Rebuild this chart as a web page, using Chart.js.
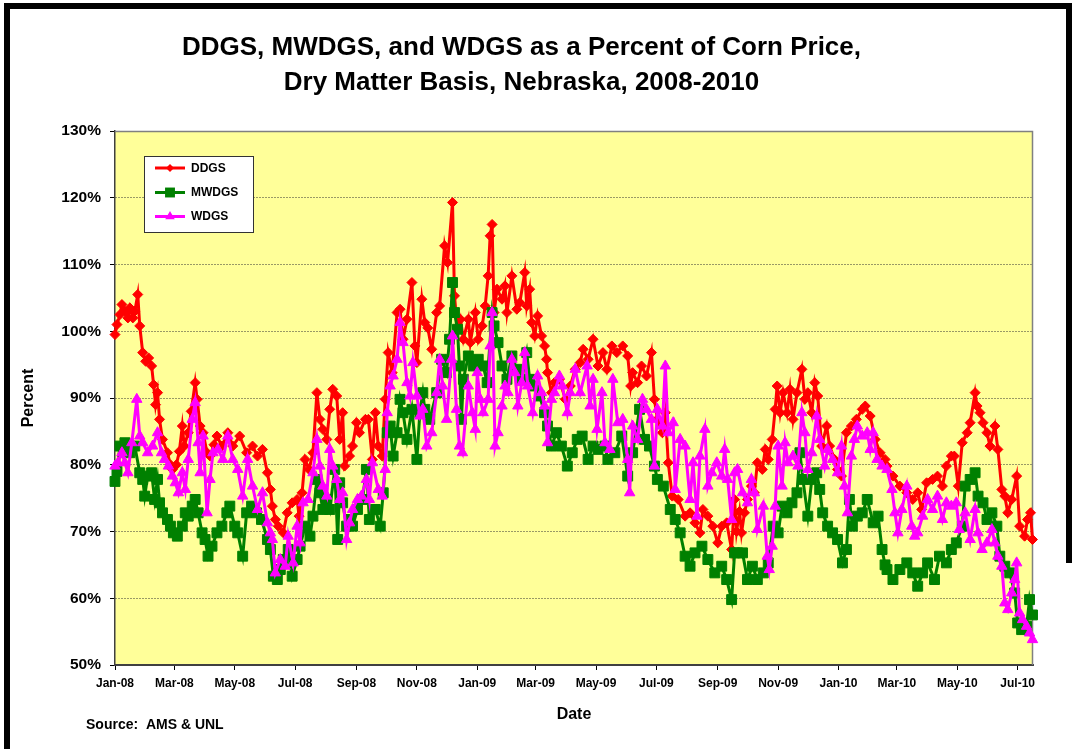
<!DOCTYPE html>
<html>
<head>
<meta charset="utf-8">
<title>DDGS, MWDGS and WDGS as a Percent of Corn Price</title>
<script src="https://cdn.jsdelivr.net/npm/chart.js@4.4.1/dist/chart.umd.min.js"></script>
<style>
  html, body { margin: 0; padding: 0; background: #fff; }
  #chart { display: block; }
</style>
</head>
<body>
<canvas id="chart" width="1075" height="749"></canvas>
<script>
const FONT = "'Liberation Sans', Arial, Helvetica, sans-serif";

// x values are days since 1 Jan 2008
const monthDays = [0, 60, 121, 182, 244, 305, 366, 425, 486, 547, 609, 670, 731, 790, 851, 912];
const monthLabels = ['Jan-08', 'Mar-08', 'May-08', 'Jul-08', 'Sep-08', 'Nov-08', 'Jan-09', 'Mar-09',
                     'May-09', 'Jul-09', 'Sep-09', 'Nov-09', 'Jan-10', 'Mar-10', 'May-10', 'Jul-10'];
const yTicks = [50, 60, 70, 80, 90, 100, 110, 120, 130];

const ddgsDay = [0,2,5,7,10,13,15,18,20,23,25,28,31,34,37,39,41,43,45,48,53,56,58,62,65,68,70,74,77,81,
  83,86,89,93,96,100,103,108,114,119,126,133,139,144,149,154,157,159,162,165,170,174,179,184,186,189,192,196,200,204,
  207,210,214,217,220,224,227,230,232,237,240,244,247,253,256,260,263,266,270,273,276,280,285,288,291,295,300,303,305,310,
  313,316,320,325,328,333,336,341,343,346,349,352,357,359,364,367,371,374,377,379,381,383,386,391,394,396,401,406,409,414,
  416,419,421,424,427,431,434,436,437,441,444,449,455,460,465,470,473,478,483,488,493,497,502,507,513,518,521,523,528,532,
  537,542,545,548,553,556,559,563,569,576,581,586,591,594,599,604,609,613,618,623,626,628,631,633,636,639,643,646,649,654,
  657,660,664,667,669,672,675,679,682,685,689,694,697,700,704,707,710,714,719,722,727,730,734,739,744,749,755,758,763,768,
  773,778,780,786,793,800,806,811,815,820,826,831,836,840,845,848,852,856,861,864,869,871,874,877,881,884,889,892,896,899,
  902,906,911,914,919,922,925,927];
const ddgsPct = [99.5,101,102.5,104,103,102,103.5,102,103,105.5,100.8,96.8,95.5,96,94.8,92,89,90.8,86.8,83.8,
  81.8,80,79.3,80,82,85.8,82.8,84.8,88,92.3,89.8,85.8,84.8,81.8,81.3,83,84.3,82.8,84.8,82.8,
  84.3,81.8,82.8,81.3,82.3,78.8,76.3,73.8,71.8,70.8,69.8,72.8,74.3,74.8,72.3,75.8,80.8,79.3,81.8,90.8,
  86.8,85.3,83.8,88.3,91.3,90.3,83.8,87.8,79.8,81.3,82.8,86.3,84.8,86.8,86.8,80.8,87.8,82.8,81.3,89.8,
  96.8,93.8,102.8,103.3,98.8,101.8,107.3,97.8,95.3,104.8,101.3,100.5,97.3,102.8,103.8,112.8,110.3,119.3,105.3,100.3,
  101.8,98.8,101.8,98.3,102.8,98.8,100.8,103.8,108.3,114.3,116,102.8,106.3,104.8,106.8,102.8,108.3,103.3,104.3,108.8,
  103.8,106.3,101.3,99.3,102.3,99.3,97.8,95.8,93.8,90.8,92.3,92.8,89.8,91.8,94.3,95.3,97.3,95.8,98.8,94.8,
  96.8,94.3,97.8,96.8,97.8,96.3,91.8,93.8,92.3,94.8,93.3,96.8,89.8,86.8,84.8,87.8,80.3,75.3,74.8,72.3,
  72.8,71.3,69.8,73.3,72.3,70.8,68.3,70.8,71.3,67.3,74.8,70,73,69.8,72.8,74.8,76.8,75.8,80.3,79.3,
  82.3,80.8,83.8,88.3,91.8,87.8,90.8,87.8,91.3,86.8,90.8,94.3,89.8,90.8,87.8,92.3,90.3,82.8,85.8,82.8,
  80.8,79.3,78.3,84.8,85.8,86.8,88.3,88.8,87.3,83.8,81.8,80.8,79.8,78.3,76.8,75.8,74.8,75.8,73.3,77.3,
  77.8,78.3,76.8,79.8,81.3,81.3,76.8,83.3,84.8,86.3,90.8,88.8,87.8,86.3,84.8,82.8,85.8,82.3,76.3,75.3,
  72.8,74.8,78.3,70.8,69.3,71.8,72.8,68.8];

const mwdgsDay = [0,2,5,10,15,20,25,28,30,33,37,40,43,45,48,53,56,59,63,68,71,74,78,81,84,88,91,94,98,103,
  108,113,116,121,124,129,133,138,143,148,154,157,160,164,167,170,175,179,184,187,192,197,200,204,207,210,214,217,222,225,
  227,230,234,237,240,245,250,254,257,263,268,271,275,278,281,285,288,291,295,300,305,308,311,313,318,325,330,335,338,341,
  343,346,348,350,352,357,362,367,372,376,381,383,387,391,396,401,406,411,416,419,424,429,434,437,441,446,451,457,462,467,
  472,478,483,488,495,498,505,512,518,523,530,535,540,545,548,554,561,566,571,576,581,586,593,599,606,613,618,623,626,629,
  634,639,644,649,655,660,665,670,674,679,684,689,692,695,700,704,709,712,715,720,725,730,735,739,742,745,750,755,760,766,
  771,775,778,780,786,793,800,806,811,816,821,828,833,840,845,850,856,859,864,869,872,877,881,886,891,894,899,904,909,912,
  916,921,924,927];
const mwdgsPct = [77.5,79,82.8,83.3,81.8,82.8,78.8,77.8,75.3,78.3,78.8,74.8,77.8,74.3,72.8,71.8,70.8,69.8,69.3,70.8,
  72.8,72.3,73.8,74.8,72.8,69.8,68.8,66.3,67.8,69.8,70.8,72.8,73.8,70.8,69.8,66.3,72.8,73.8,72.8,71.8,
  68.8,67.3,63.3,62.8,64.3,65.8,67.3,63.3,65.8,67.8,70.8,69.3,72.3,77.8,75.8,73.3,74.8,73.3,79.3,68.8,
  77.3,74.3,70.8,71.8,70.8,73.3,74.8,79.3,71.8,73.3,70.8,75.8,84.8,85.8,81.3,84.8,89.8,87.8,83.8,88.3,
  80.8,87.8,90.8,88.3,86.8,90.8,95.8,93.8,98.8,107.3,102.8,100.3,94.8,86.8,92.8,96.3,94.8,95.8,94.8,92.3,
  102.8,100.8,98.3,94.8,92.8,96.3,94.3,92.8,96.8,92.8,91.8,90.3,87.8,85.8,82.8,84.8,82.8,79.8,81.8,83.8,
  84.3,80.8,82.8,82.3,82.8,80.8,81.8,84.3,78.3,81.8,88.3,83.8,82.8,79.8,77.8,76.8,73.3,71.8,69.8,66.3,
  64.8,66.8,67.8,65.8,63.8,64.8,62.8,59.8,66.8,66.8,66.8,62.8,64.8,62.8,63.8,65.3,70.8,69.8,73.8,72.8,
  74.3,75.8,81.8,77.8,72.3,77.8,78.8,76.3,72.8,70.8,69.8,68.8,65.3,67.3,74.8,70.8,72.3,72.8,74.8,71.3,
  72.3,67.3,65,64.3,62.8,64.3,65.3,63.8,61.8,63.8,65.3,62.8,66.3,65.3,67.3,68.3,70.8,76.8,77.8,78.8,
  75.3,74.3,71.8,72.8,70.8,66.3,64.8,63.8,60.8,56.3,55.3,55.8,59.8,57.5];

const wdgsDay = [0,3,7,10,13,17,22,25,28,33,38,43,47,50,54,58,61,64,68,71,74,78,81,84,86,89,93,96,99,104,
  109,114,119,124,129,134,139,144,149,154,157,159,162,167,172,175,180,184,187,190,195,200,204,207,210,214,217,220,224,227,
  230,234,237,240,245,249,254,257,260,266,270,273,275,278,281,285,288,291,295,298,301,305,308,311,315,320,325,328,331,335,
  340,341,345,348,351,357,361,364,366,369,372,377,379,381,384,387,391,394,397,401,404,407,411,414,417,422,427,431,434,437,
  441,444,449,452,457,460,465,470,477,480,483,487,492,495,500,503,508,513,518,520,523,528,533,537,542,545,548,553,556,559,
  564,566,571,576,581,584,588,591,596,599,603,608,613,616,619,623,626,629,634,639,643,646,649,655,659,661,664,667,670,674,
  677,680,685,690,694,697,700,704,709,712,717,720,725,730,734,737,740,744,747,750,755,760,763,766,770,775,780,785,788,791,
  795,800,805,808,811,816,821,826,831,836,840,845,850,853,859,864,869,872,876,881,886,889,892,896,899,902,906,909,911,914,
  917,921,924,927];
const wdgsPct = [79.8,80.3,81.8,80.3,78.8,83.3,89.8,84.3,83.3,81.8,82.8,84.8,81.8,80.8,79.8,78.3,77.3,75.8,78.8,76.3,
  80.8,86.8,89.3,83.3,78.8,84.3,72.8,77.8,81.8,82.3,80.8,84.3,80.8,79.3,75.3,80.8,76.8,73.3,75.8,71.3,
  69.8,68.8,63.8,65.8,64.8,69.3,65.3,70.8,68.3,74.3,74.8,78.8,83.8,79.8,76.8,75.3,82.3,79.8,77.8,74.8,
  75.8,68.8,71.3,73.3,74.8,75.3,77.8,74.8,80.3,76.3,75.3,79.3,87.8,91.8,93.3,95.8,101.3,98.3,92.3,90.3,
  95.3,90.3,87.3,88.3,82.8,84.8,90.8,95.8,91.8,86.8,95.8,99.3,88.3,82.8,81.8,91.8,87.8,85.3,93.8,89.8,
  87.8,89.8,97.8,102.8,82.8,84.8,88.8,91.8,90.8,95.8,93.8,88.8,92.3,96.8,91.8,87.8,93.3,90.8,88.8,83.3,
  89.8,90.8,93.3,91.8,87.8,90.8,94.3,90.8,94.8,88.8,92.8,85.3,90.8,83.3,82.3,92.8,86.3,86.8,80.8,75.8,
  85.8,83.8,89.8,88.3,86.8,79.8,88.3,85.8,94.8,84.8,86.3,76.3,83.8,82.8,74.8,80.3,72.3,81.3,85.3,76.8,
  78.8,80.3,78.3,82.3,77.8,71.8,78.8,79.3,75.8,74.3,77.8,75.8,70.3,73.8,66.3,64.3,67.8,73.8,82.8,76.8,
  83.3,80.3,81.3,79.8,87.8,84.8,79.3,81.8,87.3,83.8,79.8,82.3,80.8,78.8,82.8,76.8,72.8,81.3,83.8,85.8,
  84.3,84.8,82.3,84.8,80.8,79.8,79.3,76.3,72.8,69.8,73.3,76.8,70.8,69.3,69.8,72.3,74.8,73.3,75.3,71.8,
  74.3,73.8,74.3,70.3,72.8,68.8,73.3,69.8,67.3,68.3,70.3,68.3,66.3,64.8,59.3,58.3,60.8,62.8,65.3,57.8,
  56.8,55.8,54.8,53.8];

function series(label, days, pct, color, style, radius, order) {
    return {
        label, order,
        data: days.map((d, i) => ({ x: d, y: pct[i] })),
        borderColor: color, backgroundColor: color,
        pointBackgroundColor: color, pointBorderColor: color,
        pointStyle: style, pointRadius: radius, pointBorderWidth: 1,
        borderWidth: 3, tension: 0, clip: false
    };
}

function marker(ctx, style, x, y, r) {
    ctx.beginPath();
    if (style === 'rectRot') {
        ctx.moveTo(x, y - r); ctx.lineTo(x + r, y); ctx.lineTo(x, y + r); ctx.lineTo(x - r, y);
    } else if (style === 'rect') {
        const s = r * Math.SQRT1_2;
        ctx.rect(x - s, y - s, 2 * s, 2 * s);
    } else {
        for (let k = 0; k < 3; k++) {
            const a = k * 2 * Math.PI / 3;
            ctx[k ? 'lineTo' : 'moveTo'](x + Math.sin(a) * r, y - Math.cos(a) * r);
        }
    }
    ctx.closePath();
    ctx.fill();
}

const pagePlugin = {
    id: 'page',
    beforeDraw(chart) {
        const { ctx, chartArea: a } = chart;
        ctx.save();
        ctx.fillStyle = '#fff';
        ctx.fillRect(0, 0, chart.width, chart.height);
        ctx.fillStyle = '#FFFF99';
        ctx.fillRect(a.left, a.top, a.right - a.left, a.bottom - a.top);
        // black frame round the picture
        ctx.fillStyle = '#000';
        ctx.fillRect(4, 3, 6, chart.height - 3);
        ctx.fillRect(4, 3, 1068, 6);
        ctx.fillRect(1066, 3, 6, 560);
        ctx.restore();
    },
    beforeDatasetsDraw(chart) {
        const { ctx, chartArea: a } = chart;
        ctx.save();
        ctx.strokeStyle = '#808080';
        ctx.lineWidth = 1.5;
        ctx.beginPath();
        ctx.moveTo(a.left, a.top + 0.5);
        ctx.lineTo(a.right - 0.5, a.top + 0.5);
        ctx.lineTo(a.right - 0.5, a.bottom);
        ctx.stroke();
        ctx.restore();
    },
    afterDraw(chart) {
        const ctx = chart.ctx;
        ctx.save();
        // legend box
        ctx.fillStyle = '#fff';
        ctx.fillRect(144.5, 156.5, 109, 76);
        ctx.strokeStyle = '#333';
        ctx.lineWidth = 1;
        ctx.strokeRect(144.5, 156.5, 109, 76);
        const rows = [168, 192.5, 216.5];
        const sizes = [4, 7, 5.5];
        chart.data.datasets.forEach((ds, i) => {
            const y = rows[i];
            ctx.strokeStyle = ds.borderColor;
            ctx.fillStyle = ds.borderColor;
            ctx.lineWidth = 3;
            ctx.beginPath();
            ctx.moveTo(155, y); ctx.lineTo(185, y);
            ctx.stroke();
            marker(ctx, ds.pointStyle, 170, y, sizes[i]);
            ctx.fillStyle = '#000';
            ctx.font = 'bold 12px ' + FONT;
            ctx.textAlign = 'left';
            ctx.textBaseline = 'middle';
            ctx.fillText(ds.label, 191, y + 0.5);
        });
        // source note
        ctx.fillStyle = '#000';
        ctx.font = 'bold 14px ' + FONT;
        ctx.textAlign = 'left';
        ctx.textBaseline = 'middle';
        ctx.fillText('Source:  AMS & UNL', 86, 725);
        ctx.restore();
    }
};

new Chart(document.getElementById('chart').getContext('2d'), {
    type: 'line',
    data: {
        datasets: [
            series('DDGS', ddgsDay, ddgsPct, '#FF0000', 'rectRot', 5, 3),
            series('MWDGS', mwdgsDay, mwdgsPct, '#008000', 'rect', 7, 2),
            series('WDGS', wdgsDay, wdgsPct, '#FF00FF', 'triangle', 6, 1)
        ]
    },
    options: {
        responsive: false,
        animation: false,
        devicePixelRatio: 1,
        layout: { padding: { left: 10, right: 42, top: 0, bottom: 0 } },
        plugins: {
            legend: { display: false },
            tooltip: { enabled: false },
            title: {
                display: true,
                text: ['DDGS, MWDGS, and WDGS as a Percent of Corn Price,', 'Dry Matter Basis, Nebraska, 2008-2010'],
                color: '#000',
                font: { family: FONT, size: 26, weight: 'bold', lineHeight: '35px' },
                padding: { top: 30.5, bottom: 30.5 }
            }
        },
        scales: {
            x: {
                type: 'linear', min: 0, max: 927.5,
                afterBuildTicks: s => { s.ticks = monthDays.map(v => ({ value: v })); },
                afterFit: s => { s.height = 84; },
                ticks: {
                    autoSkip: false, maxRotation: 0, padding: 6, color: '#000',
                    font: { family: FONT, size: 12, weight: 'bold' },
                    callback: v => monthLabels[monthDays.indexOf(v)]
                },
                grid: { drawOnChartArea: false, tickLength: 5, color: '#000' },
                border: { color: '#404040', width: 2 },
                title: {
                    display: true, text: 'Date', color: '#000',
                    font: { family: FONT, size: 16, weight: 'bold' },
                    padding: { top: 0, bottom: 25 }
                }
            },
            y: {
                min: 50, max: 130,
                afterBuildTicks: s => { s.ticks = yTicks.map(v => ({ value: v })); },
                afterFit: s => { s.width = 105; },
                ticks: {
                    padding: 9, color: '#000',
                    font: { family: FONT, size: 15.5, weight: 'bold' },
                    callback: v => v + '%'
                },
                grid: {
                    color: c => (c.tick && (c.tick.value === 130 || c.tick.value === 50)) ? 'rgba(0,0,0,0)' : '#333',
                    tickColor: '#000', tickLength: 5, lineWidth: 1
                },
                border: { color: '#404040', width: 1.5, dash: [1, 2] },
                title: {
                    display: true, text: 'Percent', color: '#000',
                    font: { family: FONT, size: 16, weight: 'bold' },
                    padding: { top: 9, bottom: 0 }
                }
            }
        }
    },
    plugins: [pagePlugin]
});
</script>
</body>
</html>
